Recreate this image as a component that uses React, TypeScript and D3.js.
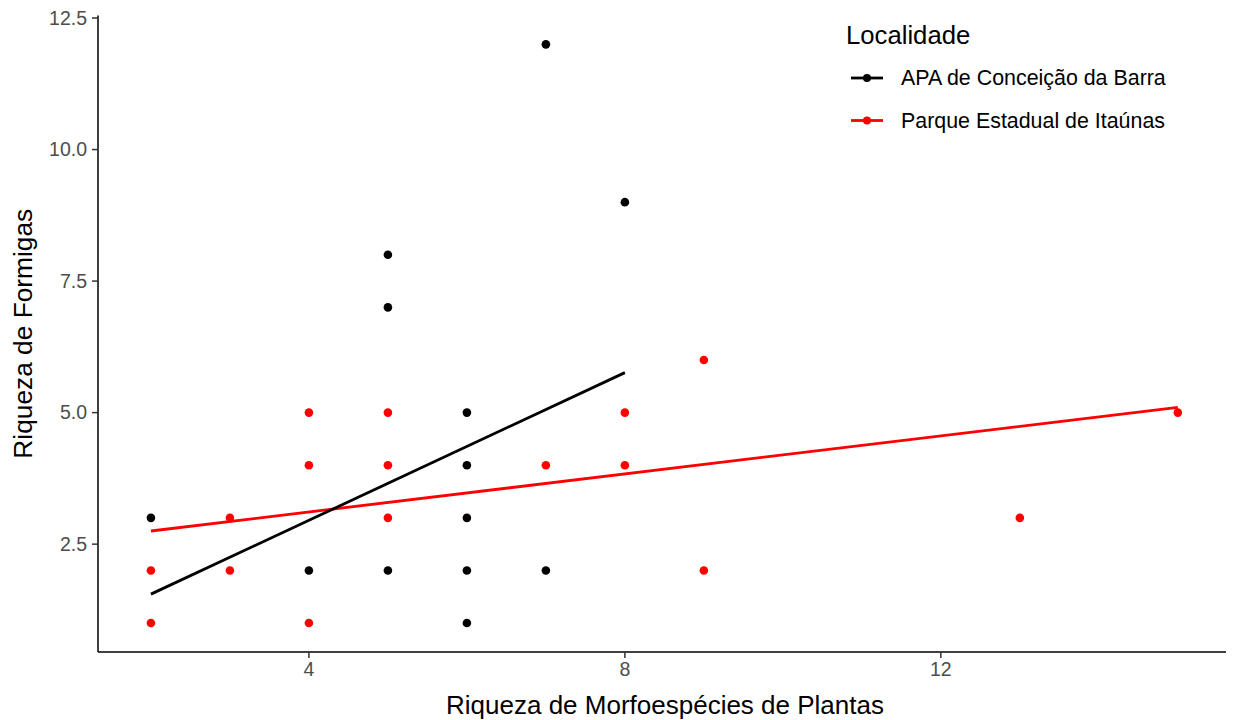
import React from 'react';
import * as d3 from 'd3';

// Localidade: APA de Conceição da Barra
const apaX = [2, 4, 5, 5, 5, 6, 6, 6, 6, 6, 7, 7, 8];
const apaY = [3, 2, 8, 7, 2, 5, 4, 3, 2, 1, 12, 2, 9];
// Localidade: Parque Estadual de Itaúnas
const peiX = [2, 2, 3, 3, 4, 4, 4, 5, 5, 5, 7, 8, 8, 9, 9, 13, 15];
const peiY = [2, 1, 3, 2, 5, 4, 1, 5, 4, 3, 4, 5, 4, 6, 2, 3, 5];

// fitted (lm) lines, ends
const apaFitX = [2, 8];
const apaFitY = [1.55, 5.76];
const peiFitX = [2, 15];
const peiFitY = [2.75, 5.1];

const xTicks = [4, 8, 12];
const yTicks = [2.5, 5.0, 7.5, 10.0, 12.5];

const series = [
  { name: 'APA de Conceição da Barra', color: '#000000', xs: apaX, ys: apaY, fx: apaFitX, fy: apaFitY },
  { name: 'Parque Estadual de Itaúnas', color: '#FF0000', xs: peiX, ys: peiY, fx: peiFitX, fy: peiFitY },
];

const W = 1233;
const H = 720;
const font = '"Liberation Sans", Arial, sans-serif';

export default function App() {
  const x = d3.scaleLinear().domain([1.33, 15.61]).range([98, 1226]);
  const y = d3.scaleLinear().domain([0.45, 12.55]).range([652, 15.4]);
  const line = d3.line<[number, number]>().x(d => x(d[0])).y(d => y(d[1]));

  const x0 = x.range()[0];
  const y0 = y.range()[0];

  return (
    <svg width={W} height={H} style={{ position: 'absolute', left: 0, top: 0, background: '#fff' }} fontFamily={font}>
      <rect width={W} height={H} fill="#fff" />

      {/* points */}
      {series.map(s => (
        <g key={s.name}>
          {s.xs.map((v, i) => (
            <circle key={i} cx={x(v)} cy={y(s.ys[i])} r={4.3} fill={s.color} />
          ))}
        </g>
      ))}

      {/* fitted lines (red under black) */}
      {[series[1], series[0]].map(s => (
        <path
          key={s.name}
          d={line(s.fx.map((v, i) => [v, s.fy[i]] as [number, number])) || ''}
          fill="none"
          stroke={s.color}
          strokeWidth={2.8}
        />
      ))}

      {/* axes */}
      <line x1={x0} x2={x.range()[1]} y1={y0} y2={y0} stroke="#000" strokeWidth={1.5} />
      <line x1={x0} x2={x0} y1={y0} y2={y.range()[1]} stroke="#000" strokeWidth={1.5} />

      {xTicks.map(t => (
        <g key={t}>
          <line x1={x(t)} x2={x(t)} y1={y0} y2={y0 + 6} stroke="#333" strokeWidth={1.5} />
          <text x={x(t)} y={y0 + 24} textAnchor="middle" fontSize={19.5} fill="#4D4D4D">
            {t}
          </text>
        </g>
      ))}
      {yTicks.map(t => (
        <g key={t}>
          <line x1={x0 - 6} x2={x0} y1={y(t)} y2={y(t)} stroke="#333" strokeWidth={1.5} />
          <text x={x0 - 11} y={y(t)} dy="0.35em" textAnchor="end" fontSize={19.5} fill="#4D4D4D">
            {d3.format('.1f')(t)}
          </text>
        </g>
      ))}

      {/* axis titles */}
      <text x={(x0 + x.range()[1]) / 2 + 3} y={714} textAnchor="middle" fontSize={26} fill="#000">
        Riqueza de Morfoespécies de Plantas
      </text>
      <text
        transform={`translate(32,${(y0 + y.range()[1]) / 2}) rotate(-90)`}
        textAnchor="middle"
        fontSize={26.3}
        fill="#000"
      >
        Riqueza de Formigas
      </text>

      {/* legend */}
      <text x={846} y={44} fontSize={25.7} fill="#000">Localidade</text>
      {series.map((s, i) => {
        const ly = 78 + i * 42.5;
        return (
          <g key={s.name}>
            <line x1={851} x2={883} y1={ly} y2={ly} stroke={s.color} strokeWidth={2.8} />
            <circle cx={867} cy={ly} r={4} fill={s.color} />
            <text x={901} y={ly} dy="0.35em" fontSize={21.4} fill="#000">
              {s.name}
            </text>
          </g>
        );
      })}
    </svg>
  );
}
